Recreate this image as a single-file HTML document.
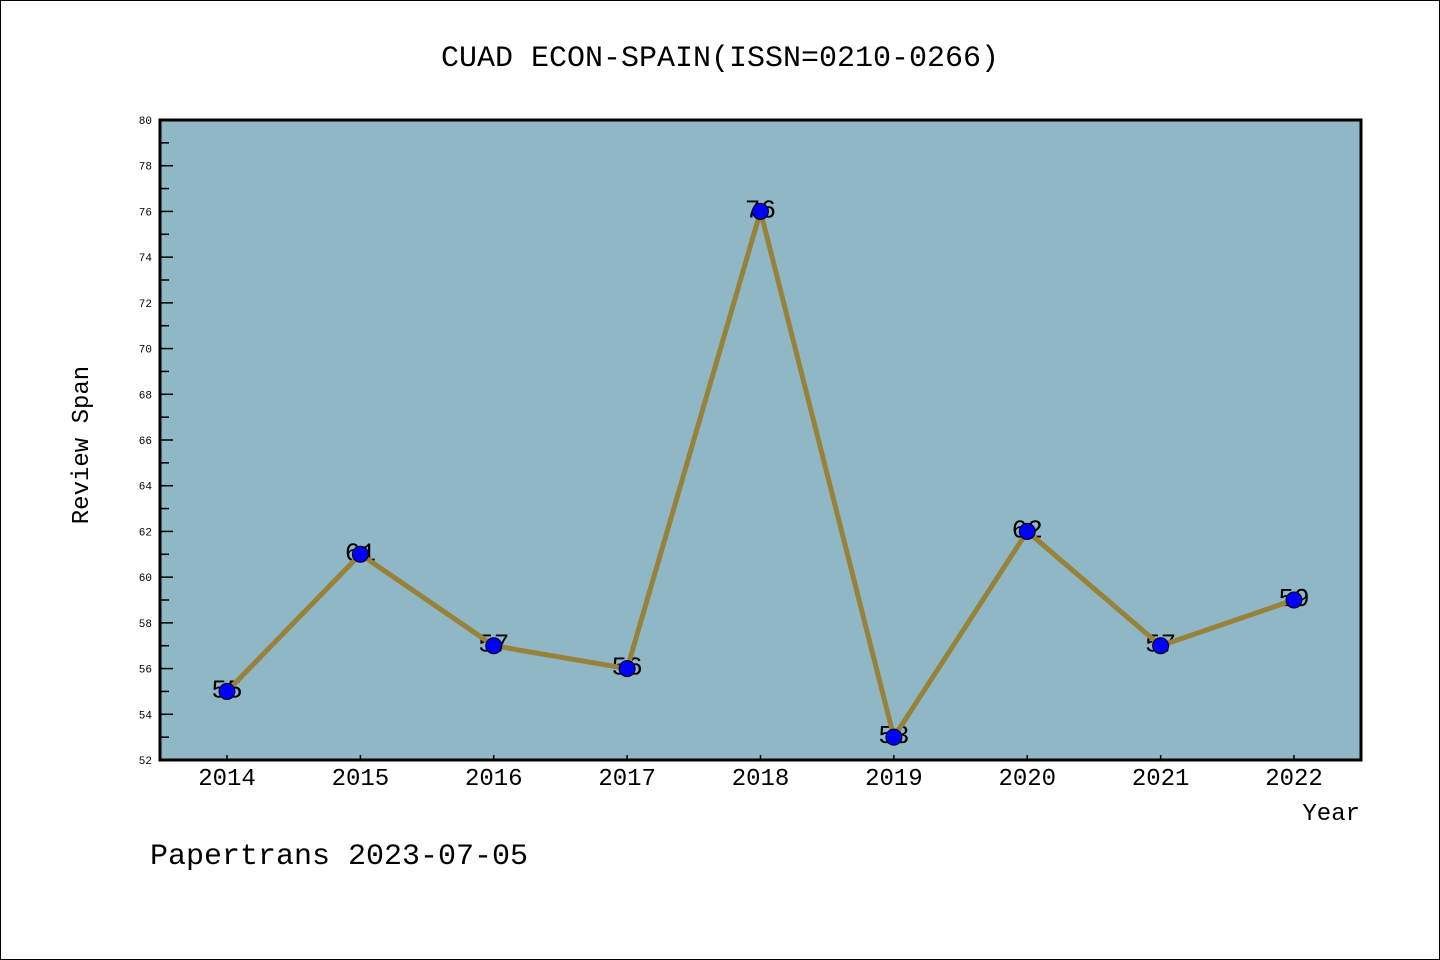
<!DOCTYPE html>
<html><head><meta charset="utf-8"><style>
html,body{margin:0;padding:0;background:#fff}
svg{display:block}
text{font-family:"Liberation Mono","DejaVu Sans Mono",monospace}
</style></head><body>
<svg id="chart" width="1440" height="960" xmlns="http://www.w3.org/2000/svg">
<rect x="0.5" y="0.5" width="1439" height="959" fill="#fff" stroke="#000"/>
<text x="720" y="66" text-anchor="middle" font-size="30">CUAD ECON-SPAIN(ISSN=0210-0266)</text>
<rect x="160" y="120" width="1201" height="640" fill="#8fb7c5"/>
<g id="yaxis"></g>
<g id="xaxis"></g>
<g id="series"></g>
<rect x="160" y="120" width="1201" height="640" fill="none" stroke="#000" stroke-width="3"/>
<text x="88" y="445" text-anchor="middle" font-size="24" transform="rotate(-90 88 445)">Review Span</text>
<text x="1360" y="820" text-anchor="end" font-size="24">Year</text>
<text x="150" y="864" font-size="30">Papertrans 2023-07-05</text>
</svg>
<script>
const years = ["2014","2015","2016","2017","2018","2019","2020","2021","2022"];
const values = [55,61,57,56,76,53,62,57,59];
const yTicks = [52,54,56,58,60,62,64,66,68,70,72,74,76,78,80];
const yMin = 52, yMax = 80;
const NS = "http://www.w3.org/2000/svg";
function X(i){return 227 + i*(1294-227)/(years.length-1);}
function Y(v){return 760 - (v-yMin)/(yMax-yMin)*640;}
function mk(tag, attrs, parent){const e=document.createElementNS(NS,tag);for(const k in attrs)e.setAttribute(k,attrs[k]);parent.appendChild(e);return e;}
const ya=document.getElementById('yaxis'), xa=document.getElementById('xaxis'), s=document.getElementById('series');
for(let v=yMin; v<yMax; v++){
  if(v%2===1){const t=mk('line',{x1:160,x2:169,y1:Y(v),y2:Y(v),stroke:'#000','stroke-width':1.5},ya);
  
  }
}
yTicks.forEach(v=>{
  const t=mk('line',{x1:160,x2:173,y1:Y(v),y2:Y(v),stroke:'#000','stroke-width':1.5},ya);
  
  
  const l=mk('text',{x:152,y:Y(v)+4,'text-anchor':'end','font-size':11},ya);
  l.textContent=v;
  
  
});
years.forEach((y,i)=>{
  const t=mk('line',{x1:X(i),x2:X(i),y1:755,y2:760,stroke:'#000','stroke-width':1.5},xa);
  
  
  const l=mk('text',{x:X(i),y:785,'text-anchor':'middle','font-size':24},xa);
  l.textContent=y;
  
  
});
values.forEach((v,i)=>{
  const l=mk('text',{x:X(i),y:Y(v)+6,'text-anchor':'middle','font-size':26,'font-family':'"Liberation Sans",sans-serif'},s);
  l.textContent=v;
  
  
});
const line=mk('polyline',{points:values.map((v,i)=>X(i)+','+Y(v)).join(' '),fill:'none',stroke:'#98823a','stroke-width':5,'stroke-linejoin':'round'},s);


values.forEach((v,i)=>{
  const c=mk('circle',{cx:X(i),cy:Y(v),r:8,fill:'#0000ff',stroke:'#000','stroke-width':1},s);
  
  
});
</script>
</body></html>
